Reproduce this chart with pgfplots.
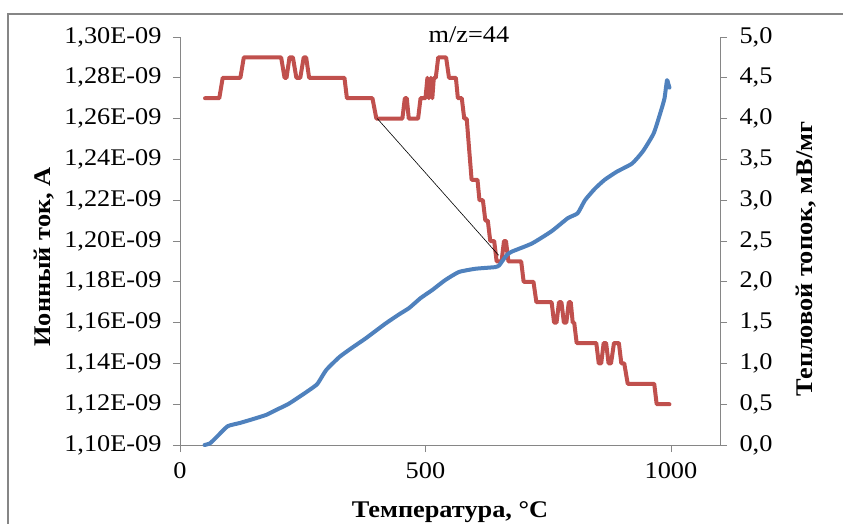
\documentclass[border=0pt]{standalone}
\usepackage{pgfplots}
\pgfplotsset{compat=1.18}
\usepackage{fontspec}
\setmainfont{Liberation Serif}[FakeStretch=1.1]

\definecolor{exred}{HTML}{C0504D}
\definecolor{exblue}{HTML}{4F81BD}
\definecolor{axgray}{HTML}{868686}

\pgfplotsset{
  common/.style={
    at={(180bp,-445bp)}, anchor=south west,
    scale only axis, width=540bp, height=408bp,
    xmin=0, xmax=1100,
    tick align=outside, major tick length=7bp,
    axis line style={axgray, line width=0.8bp},
    every tick/.style={axgray, line width=0.8bp},
    tick label style={font=\fontsize{24}{28}\selectfont, black},
    label style={font=\bfseries\fontsize{24}{28}\selectfont},
    clip=false,
  }
}

\begin{document}
\begin{tikzpicture}
\useasboundingbox (0,0) rectangle (843bp,-524bp);
\draw[axgray, line width=1.2bp] (8bp,-600bp) -- (8bp,-14bp) -- (900bp,-14bp);

% ion current, left axis
\begin{axis}[common,
  axis x line*=bottom, axis y line*=left,
  ymin=1.10, ymax=1.30,
  xtick={0,500,1000}, xticklabels={0,500,1000},
  xticklabel style={yshift=-7bp},
  yticklabel style={xshift=-8bp},
  ytick={1.10,1.12,1.14,1.16,1.18,1.20,1.22,1.24,1.26,1.28,1.30},
  yticklabels={{1,10E-09},{1,12E-09},{1,14E-09},{1,16E-09},{1,18E-09},{1,20E-09},{1,22E-09},{1,24E-09},{1,26E-09},{1,28E-09},{1,30E-09}},
  xlabel={Температура, °C},
  ylabel={Ионный ток, А},
  xlabel style={at={(axis description cs:0.5,-0.165)}, anchor=center},
  ylabel style={at={(axis description cs:-0.252,0.461)}, anchor=center, rotate=0},
  title={m/z=44},
  title style={at={(axis description cs:0.535,0.99)}, anchor=center, font=\fontsize{24}{28}\selectfont},
]
\addplot[exred, line width=4bp, line join=round, line cap=round] coordinates {
(51,1.27)(80,1.27)(87,1.28)(123,1.28)(130,1.29)(206,1.29)(213,1.28)(217,1.28)
(223,1.29)(230,1.29)(237,1.28)(245,1.28)(252,1.29)(257,1.29)(263,1.28)(335,1.28)
(340,1.27)(392,1.27)(400,1.26)(453,1.26)(458,1.27)(462,1.27)(466,1.26)(485,1.26)
(490,1.27)(500,1.27)(504,1.28)(507,1.27)(511,1.28)(514,1.27)(517,1.28)(521,1.28)
(526,1.29)(542,1.29)(548,1.28)(562,1.28)(566,1.27)(574,1.27)(579,1.26)(584,1.26)
(594,1.23)(606,1.23)(610,1.22)(617,1.22)(622,1.21)(627,1.21)(632,1.20)(640,1.20)
(645,1.19)(655,1.19)(660,1.20)(664,1.20)(669,1.19)(695,1.19)(700,1.18)(720,1.18)
(726,1.17)(757,1.17)(762,1.16)(767,1.16)(772,1.17)(777,1.17)(782,1.16)(787,1.16)
(792,1.17)(796,1.17)(800,1.16)(803,1.16)(808,1.15)(848,1.15)(853,1.14)(858,1.14)
(863,1.15)(868,1.15)(873,1.14)(878,1.14)(884,1.15)(894,1.15)(899,1.14)(905,1.14)
(912,1.13)(966,1.13)(971,1.12)(997,1.12)
};
\addplot[black, line width=0.6bp] coordinates {(402,1.26)(649,1.193)};
\end{axis}

% heat flux, right axis
\begin{axis}[common,
  axis x line=none, axis y line*=right,
  ymin=0, ymax=5,
  yticklabel style={xshift=9bp},
  ytick={0,0.5,1,1.5,2,2.5,3,3.5,4,4.5,5},
  yticklabels={{0,0},{0,5},{1,0},{1,5},{2,0},{2,5},{3,0},{3,5},{4,0},{4,5},{5,0}},
  ylabel={Тепловой топок, мВ/мг},
  ylabel style={at={(axis description cs:1.159,0.456)}, anchor=center, rotate=0},
]
\addplot[exblue, line width=4bp, line join=round, line cap=round, smooth, tension=0.3] coordinates {
(50,0.0)(61,0.02)(75,0.1)(97,0.23)(122,0.27)(150,0.32)(176,0.37)(196,0.43)
(220,0.5)(243,0.59)(265,0.68)(280,0.75)(298,0.92)(325,1.08)(350,1.19)(379,1.31)
(419,1.49)(446,1.6)(467,1.68)(490,1.8)(514,1.9)(540,2.02)(568,2.12)(602,2.16)
(642,2.18)(650,2.2)(656,2.25)(666,2.33)(676,2.37)(717,2.47)(757,2.62)(790,2.78)
(810,2.84)(825,3.0)(845,3.14)(865,3.25)(890,3.35)(921,3.45)(943,3.6)(965,3.82)
(980,4.1)(987,4.25)(992,4.47)(995,4.42)(997,4.38)
};
\end{axis}
\end{tikzpicture}
\end{document}
